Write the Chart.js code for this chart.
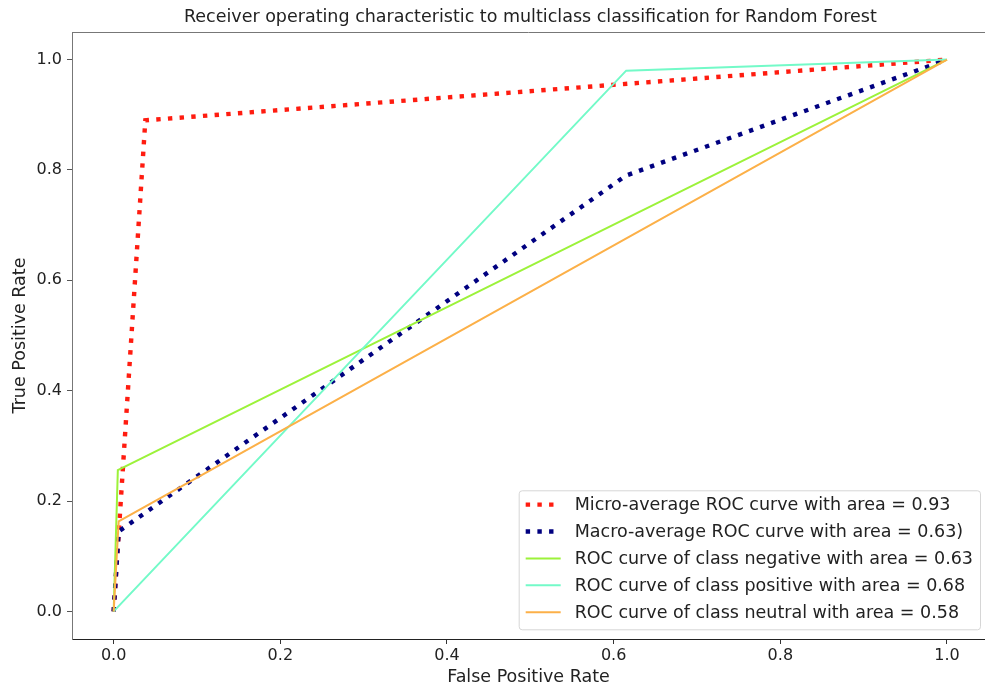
<!DOCTYPE html>
<html>
<head>
<meta charset="utf-8">
<script src="https://cdn.jsdelivr.net/npm/chart.js@4.4.1/dist/chart.umd.min.js"></script>
<style>
  html, body { margin: 0; padding: 0; background: #fff; }
  #wrap { width: 985px; height: 686px; }
</style>
</head>
<body>
<div id="wrap"><canvas id="roc" width="985" height="686"></canvas></div>
<script>
// ROC points (fpr, tpr)
const microFpr = [0, 0.038, 1];
const microTpr = [0, 0.89, 1];
const macroFpr = [0, 0.006, 0.615, 1];
const macroTpr = [0, 0.145, 0.79, 1];
const negFpr = [0, 0.005, 1];
const negTpr = [0, 0.256, 1];
const posFpr = [0, 0.615, 1];
const posTpr = [0, 0.98, 1];
const neuFpr = [0, 0.006, 1];
const neuTpr = [0, 0.163, 1];

const seriesLabels = [
    "Micro-average ROC curve with area = 0.93",
    "Macro-average ROC curve with area = 0.63)",
    "ROC curve of class negative with area = 0.63",
    "ROC curve of class positive with area = 0.68",
    "ROC curve of class neutral with area = 0.58"
];
const xTickValues = [0, 0.2, 0.4, 0.6, 0.8, 1.0];
const yTickValues = [0, 0.2, 0.4, 0.6, 0.8, 1.0];
const chartTitle = "Receiver operating characteristic to multiclass classification for Random Forest";

const FONT = "'DejaVu Sans', sans-serif";
const TEXT_SIZE = 17.5;

function toPoints(xs, ys) {
    return xs.map((x, i) => ({ x: x, y: ys[i] }));
}

function lineSet(label, xs, ys, color, dotted, order) {
    return {
        label: label,
        data: toPoints(xs, ys),
        showLine: true,
        borderColor: color,
        backgroundColor: color,
        borderWidth: dotted ? 4.4 : 2,
        borderDash: dotted ? [4.4, 7.3] : [],
        borderCapStyle: "butt",
        pointRadius: 0,
        tension: 0,
        order: order
    };
}

// title over the axes, frame line on top, legend box inside the plot
const framePlugin = {
    id: "frame",
    afterDraw(chart) {
        const { ctx, chartArea } = chart;
        const xScale = chart.scales.x;
        ctx.save();
        ctx.strokeStyle = "#777";
        ctx.lineWidth = 1;
        ctx.beginPath();
        ctx.moveTo(chartArea.left, chartArea.top + 0.5);
        ctx.lineTo(chartArea.right, chartArea.top + 0.5);
        ctx.stroke();

        // title centred on the full axes box (which runs to x = 1.05)
        const axesRight = xScale.getPixelForValue(1.05);
        ctx.font = TEXT_SIZE + "px " + FONT;
        ctx.fillStyle = "#222";
        ctx.textAlign = "center";
        ctx.textBaseline = "middle";
        ctx.fillText(chartTitle, (chartArea.left + axesRight) / 2, 17);

        // legend
        const sets = chart.data.datasets;
        let maxW = 0;
        sets.forEach(ds => { maxW = Math.max(maxW, ctx.measureText(ds.label).width); });
        const rowH = 26.9;
        const boxW = 7 + 35 + 14 + maxW + 7;
        const boxH = 139;
        const right = chartArea.right - 5;
        const bottom = chartArea.bottom - 9.7;
        const left = right - boxW;
        const top = bottom - boxH;

        ctx.fillStyle = "rgba(255,255,255,0.8)";
        ctx.strokeStyle = "#d6d6d6";
        ctx.lineWidth = 1;
        ctx.beginPath();
        ctx.roundRect(left + 0.5, top + 0.5, boxW, boxH, 3);
        ctx.fill();
        ctx.stroke();

        ctx.textAlign = "left";
        sets.forEach((ds, i) => {
            const cy = top + 14.3 + i * rowH;
            ctx.strokeStyle = ds.borderColor;
            ctx.lineWidth = ds.borderWidth;
            ctx.lineCap = "butt";
            ctx.setLineDash(ds.borderDash);
            ctx.beginPath();
            ctx.moveTo(left + 7, cy);
            ctx.lineTo(left + 42, cy);
            ctx.stroke();
            ctx.setLineDash([]);
            ctx.fillStyle = "#222";
            ctx.fillText(ds.label, left + 56, cy + 1);
        });
        ctx.restore();
    }
};

const chart = new Chart(document.getElementById("roc").getContext("2d"), {
    type: "scatter",
    data: {
        datasets: [
            lineSet(seriesLabels[0], microFpr, microTpr, "rgb(255,28,16)", true, 5),
            lineSet(seriesLabels[1], macroFpr, macroTpr, "#000080", true, 4),
            lineSet(seriesLabels[2], negFpr, negTpr, "rgb(156,242,58)", false, 3),
            lineSet(seriesLabels[3], posFpr, posTpr, "rgb(115,250,200)", false, 2),
            lineSet(seriesLabels[4], neuFpr, neuTpr, "rgb(252,176,72)", false, 1)
        ]
    },
    options: {
        responsive: false,
        animation: false,
        devicePixelRatio: 1,
        layout: { padding: { top: 32, left: 0, right: 0, bottom: 0 } },
        plugins: {
            legend: { display: false },
            tooltip: { enabled: false },
            title: { display: false }
        },
        scales: {
            x: {
                type: "linear",
                min: -0.05,
                max: 1.0456,
                afterFit(scale) { scale.height = 47; },
                afterBuildTicks(scale) { scale.ticks = xTickValues.map(v => ({ value: v })); },
                grid: { drawOnChartArea: false, tickLength: 5, color: "#333" },
                border: { color: "#222", width: 1 },
                ticks: {
                    color: "#222",
                    padding: 2,
                    font: { family: FONT, size: 16 },
                    maxRotation: 0,
                    callback: v => Number(v).toFixed(1)
                },
                title: {
                    display: true,
                    text: "False Positive Rate",
                    color: "#222",
                    font: { family: FONT, size: TEXT_SIZE, lineHeight: 1 },
                    padding: { top: 0, bottom: 0 }
                }
            },
            y: {
                type: "linear",
                min: -0.05,
                max: 1.05,
                afterFit(scale) { scale.width = 72; },
                afterBuildTicks(scale) { scale.ticks = yTickValues.map(v => ({ value: v })); },
                grid: { drawOnChartArea: false, tickLength: 5, color: "#555" },
                border: { color: "#777", width: 1 },
                ticks: {
                    color: "#222",
                    padding: 5,
                    font: { family: FONT, size: 16 },
                    callback: v => Number(v).toFixed(1)
                },
                title: {
                    display: true,
                    text: "True Positive Rate",
                    color: "#222",
                    font: { family: FONT, size: TEXT_SIZE, lineHeight: 1 },
                    padding: { top: 12, bottom: 0 }
                }
            }
        }
    },
    plugins: [framePlugin]
});
</script>
</body>
</html>
